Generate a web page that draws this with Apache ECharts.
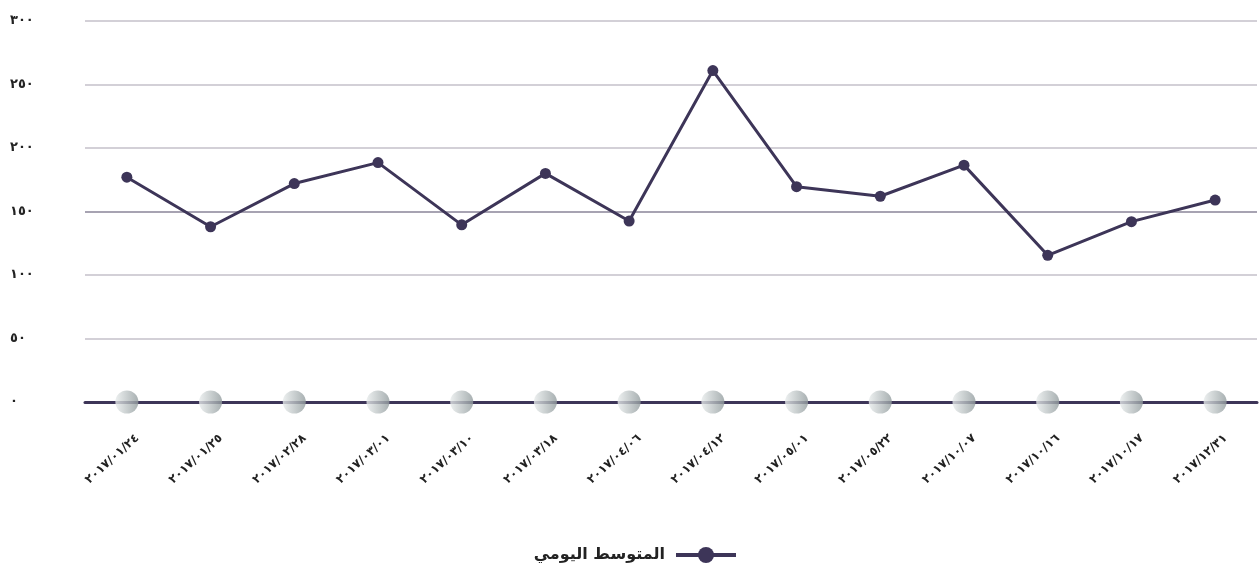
<!DOCTYPE html>
<html>
<head>
<meta charset="utf-8">
<title>المتوسط اليومي</title>
<script src="https://cdn.jsdelivr.net/npm/echarts@6/dist/echarts.min.js"></script>
<style>
    html, body { margin: 0; padding: 0; background: #fff; }
    #chart { width: 1260px; height: 563px; }
</style>
</head>
<body>
<div id="chart"></div>
<script>
// التواريخ (محور س)
const categories = [
    '٢٠١٧/٠١/٢٤', '٢٠١٧/٠١/٢٥', '٢٠١٧/٠٢/٢٨', '٢٠١٧/٠٣/٠١', '٢٠١٧/٠٣/١٠',
    '٢٠١٧/٠٣/١٨', '٢٠١٧/٠٤/٠٦', '٢٠١٧/٠٤/١٢', '٢٠١٧/٠٥/٠١', '٢٠١٧/٠٥/٢٢',
    '٢٠١٧/١٠/٠٧', '٢٠١٧/١٠/١٦', '٢٠١٧/١٠/١٧', '٢٠١٧/١٢/٣١'
];
// المتوسط اليومي
const dailyAverage = [177, 138, 172, 188.5, 139.5, 180, 142.5, 261, 169.5, 162, 186.5, 115.5, 142, 159];
// النقاط الرمادية على المحور
const baseDots = [0, 0, 0, 0, 0, 0, 0, 0, 0, 0, 0, 0, 0, 0];
const yTickValues = [0, 50, 100, 150, 200, 250, 300];
const yTickLabels = ['٠', '٥٠', '١٠٠', '١٥٠', '٢٠٠', '٢٥٠', '٣٠٠'];
const seriesName = 'المتوسط اليومي';

const mainColor = '#3d3558';
const font = '"DejaVu Sans", "Noto Sans", sans-serif';

const chart = echarts.init(document.getElementById('chart'));

chart.setOption({
    animation: false,
    grid: { left: 85, right: 3, top: 21, bottom: 161 },
    legend: {
        data: [seriesName],
        right: 517,
        top: 542,
        align: 'right',
        itemWidth: 60,
        itemHeight: 20,
        itemGap: 14,
        lineStyle: { width: 4 },
        textStyle: { fontFamily: font, fontWeight: 'bold', fontSize: 16, color: '#222', padding: [0, 6, 0, 0] }
    },
    xAxis: {
        type: 'category',
        data: categories,
        boundaryGap: true,
        axisLine: { lineStyle: { color: mainColor, width: 3 } },
        axisTick: { show: false },
        axisLabel: {
            rotate: 42,
            margin: 44,
            interval: 0,
            padding: [0, -14, 0, 0],
            fontFamily: font,
            fontWeight: 'bold',
            fontSize: 12,
            color: '#222'
        }
    },
    yAxis: {
        type: 'value',
        min: 0,
        max: 300,
        interval: 50,
        axisLine: { show: false },
        axisTick: { show: false },
        splitLine: {
            lineStyle: {
                // خط ١٥٠ أغمق من باقي الخطوط
                color: ['#c4c0ca', '#c4c0ca', '#c4c0ca', '#8a8598', '#c4c0ca', '#c4c0ca', '#c4c0ca'],
                width: 1.5
            }
        },
        axisLabel: {
            align: 'left',
            margin: 75,
            fontFamily: font,
            fontWeight: 'bold',
            fontSize: 13,
            color: '#222',
            formatter: v => yTickLabels[yTickValues.indexOf(v)]
        }
    },
    series: [
        {
            name: seriesName,
            type: 'line',
            data: dailyAverage,
            symbol: 'circle',
            symbolSize: 11,
            itemStyle: { color: mainColor },
            lineStyle: { color: mainColor, width: 3 },
            z: 3
        },
        {
            name: 'dots',
            type: 'scatter',
            data: baseDots,
            symbolSize: 23,
            silent: true,
            itemStyle: {
                color: new echarts.graphic.LinearGradient(0, 0, 1, 0, [
                    { offset: 0, color: '#e8ecec' },
                    { offset: 1, color: '#929c9e' }
                ])
            },
            z: 4
        }
    ]
});
</script>
</body>
</html>
